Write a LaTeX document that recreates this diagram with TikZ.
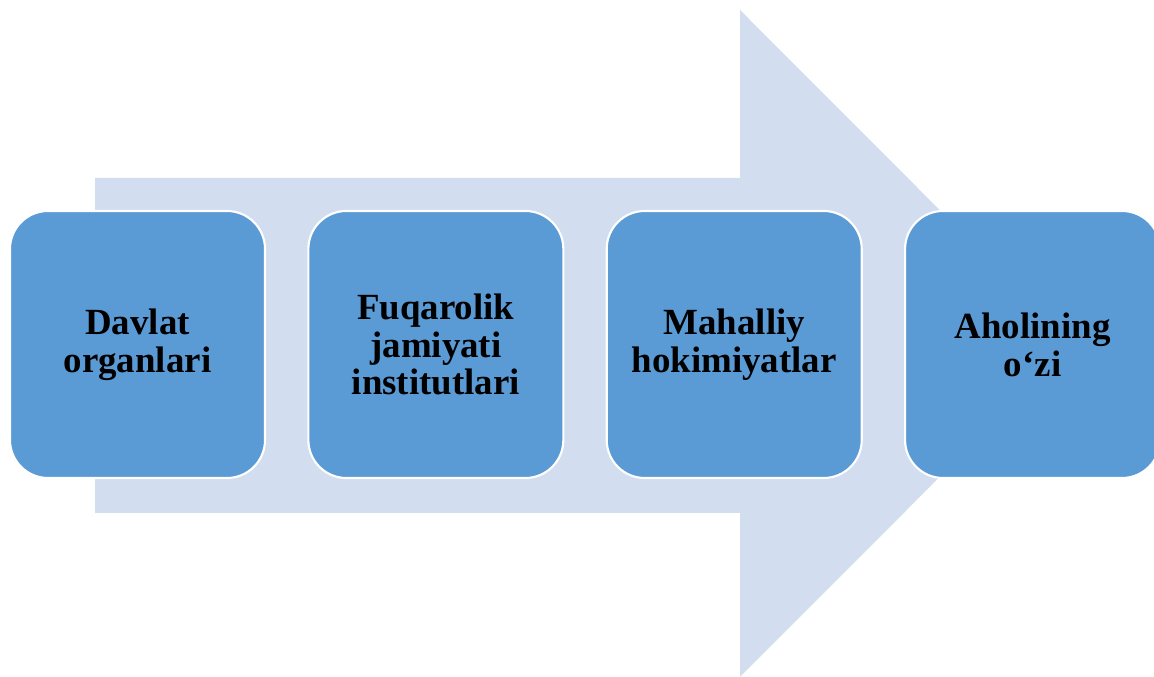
\documentclass[tikz,border=0pt]{standalone}
\usepackage{fontspec}
\setmainfont{Liberation Serif}
\usetikzlibrary{positioning}
\definecolor{arrowfill}{HTML}{D2DEEF}
\definecolor{boxfill}{HTML}{5B9BD5}
\tikzset{
  stage/.style={rectangle, rounded corners=0.76cm, fill=boxfill, draw=white,
    line width=1.2pt, minimum width=5.1cm, minimum height=5.34cm,
    align=center, font=\bfseries\fontsize{21}{21.5}\selectfont}
}
\begin{document}
\begin{tikzpicture}
  \useasboundingbox (0,0) rectangle (23.08,13.54);
  \fill[arrowfill] (1.9,3.28) -- (14.8,3.28) -- (14.8,0) -- (21.46,6.67)
    -- (14.8,13.34) -- (14.8,9.98) -- (1.9,9.98) -- cycle;
  \node[stage] at (2.75,6.65) (davlat) {Davlat\\organlari};
  \node[stage, right=0.825cm of davlat] (fuqarolik) {Fuqarolik\\jamiyati\\institutlari};
  \node[stage, right=0.825cm of fuqarolik] (mahalliy) {Mahalliy\\hokimiyatlar};
  \node[stage, right=0.825cm of mahalliy] (aholi) {Aholining\\o‘zi};
\end{tikzpicture}
\end{document}
